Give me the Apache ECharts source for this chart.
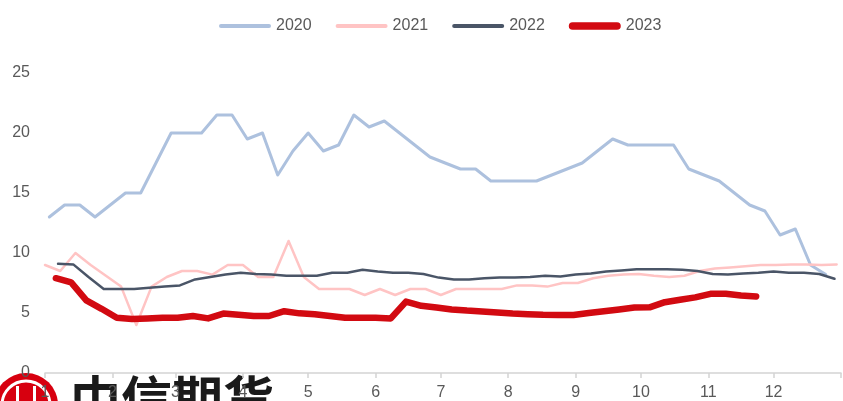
<!DOCTYPE html>
<html>
<head>
<meta charset="utf-8">
<script src="https://cdn.jsdelivr.net/npm/echarts@6.0.0/dist/echarts.min.js"></script>
<style>
html, body { margin: 0; padding: 0; background: #fff; }
#chart { width: 843px; height: 401px; }
</style>
</head>
<body>
<div id="chart"></div>
<script>
const monthLabels = ['1', '2', '3', '4', '5', '6', '7', '8', '9', '10', '11', '12']
const monthStarts = [0, 31, 60, 91, 121, 152, 182, 213, 244, 274, 305, 335]
const yearDays = 366
const yTicks = [0, 5, 10, 15, 20, 25]

const years = ['2020', '2021', '2022', '2023']
const firstDay = { '2020': 2, '2021': 0, '2022': 6, '2023': 5 }

const v2020 = [13, 14, 14, 13, 14, 15, 15, 17.5, 20, 20, 20, 21.5, 21.5, 19.5, 20, 16.5, 18.5, 20,
    18.5, 19, 21.5, 20.5, 21, 20, 19, 18, 17.5, 17, 17, 16, 16, 16, 16, 16.5, 17, 17.5, 18.5, 19.5,
    19, 19, 19, 19, 17, 16.5, 16, 15, 14, 13.5, 11.5, 12, 9, 8.2]
const v2021 = [9, 8.5, 10, 9, 8.1, 7.2, 4, 7.2, 8, 8.5, 8.5, 8.2, 9, 9, 8, 8, 11, 8, 7, 7, 7, 6.5,
    7, 6.5, 7, 7, 6.5, 7, 7, 7, 7, 7.3, 7.3, 7.2, 7.5, 7.5, 7.9, 8.1, 8.2, 8.25, 8.1, 8, 8.1, 8.5,
    8.7, 8.8, 8.9, 9, 9, 9.05, 9.05, 9, 9.05]
const v2022 = [9.1, 9.05, 8, 7, 7, 7, 7.1, 7.2, 7.3, 7.8, 8, 8.2, 8.35, 8.25, 8.2, 8.1, 8.1, 8.1,
    8.35, 8.35, 8.6, 8.45, 8.35, 8.35, 8.25, 7.95, 7.8, 7.8, 7.9, 7.95, 7.95, 8, 8.1, 8.05, 8.2,
    8.3, 8.45, 8.55, 8.65, 8.65, 8.65, 8.6, 8.5, 8.25, 8.2, 8.3, 8.35, 8.45, 8.35, 8.35, 8.25, 7.85]
const v2023 = [7.9, 7.55, 6.05, 5.35, 4.6, 4.5, 4.55, 4.6, 4.6, 4.75, 4.55, 4.95, 4.85, 4.75, 4.75,
    5.15, 4.97, 4.9, 4.75, 4.6, 4.6, 4.6, 4.55, 5.95, 5.6, 5.45, 5.3, 5.2, 5.13, 5.05, 4.95, 4.9,
    4.85, 4.83, 4.83, 5, 5.15, 5.3, 5.45, 5.47, 5.9, 6.1, 6.3, 6.6, 6.6, 6.45, 6.38]

const values = { '2020': v2020, '2021': v2021, '2022': v2022, '2023': v2023 }
const colors = { '2020': '#adc1de', '2021': '#ffc4c4', '2022': '#4a5567', '2023': '#d20a11' }
const widths = { '2020': 3, '2021': 2.5, '2022': 2.5, '2023': 6.5 }

const thinIcon = 'path://M2,0 L50,0 A2,2 0 0 1 50,4 L2,4 A2,2 0 0 1 2,0 Z'
const thickIcon = 'path://M4,0 L51,0 A4,4 0 0 1 51,8 L4,8 A4,4 0 0 1 4,0 Z'

const font = '"Liberation Sans", Arial, sans-serif'

const weekly = function (year) {
    const start = firstDay[year]
    return values[year].map((v, i) => [start + i * 7, v])
}

const chart = echarts.init(document.getElementById('chart'))

chart.setOption({
    animation: false,
    backgroundColor: '#fff',
    legend: {
        left: 214,
        top: 13,
        itemWidth: 52,
        itemHeight: 14,
        itemGap: 24,
        symbolKeepAspect: true,
        textStyle: { fontSize: 16, color: '#595959', fontFamily: font },
        data: years.map(y => ({ name: y, icon: y === '2023' ? thickIcon : thinIcon }))
    },
    grid: { left: 45, right: 2, top: 73, bottom: 28, containLabel: false },
    xAxis: {
        type: 'value',
        min: 0,
        max: yearDays,
        splitLine: { show: false },
        axisLine: { lineStyle: { color: '#d4d4d4', width: 1.5 } },
        axisTick: {
            customValues: monthStarts.concat([yearDays]),
            length: 5,
            lineStyle: { color: '#d4d4d4', width: 1.5 }
        },
        axisLabel: {
            customValues: monthStarts,
            margin: 12,
            fontSize: 16,
            color: '#595959',
            fontFamily: font,
            formatter: function (val) {
                const i = monthStarts.indexOf(val)
                return i >= 0 ? monthLabels[i] : ''
            }
        }
    },
    yAxis: {
        type: 'value',
        min: yTicks[0],
        max: yTicks[yTicks.length - 1],
        interval: 5,
        splitLine: { show: false },
        axisLine: { show: false },
        axisTick: { show: false },
        axisLabel: { margin: 15, fontSize: 16, color: '#595959', fontFamily: font }
    },
    graphic: [
        { type: 'circle', z: 0, shape: { cx: 26, cy: 405, r: 32 }, style: { fill: '#d7000f' } },
        { type: 'circle', z: 0, shape: { cx: 26, cy: 405, r: 24 }, style: { fill: 'none', stroke: '#fff', lineWidth: 3 } },
        { type: 'rect', z: 0, shape: { x: 16, y: 386, width: 3, height: 20 }, style: { fill: '#fff' } },
        { type: 'rect', z: 0, shape: { x: 33, y: 386, width: 3, height: 20 }, style: { fill: '#fff' } },
        {
            type: 'text', z: 0, left: 70, top: 374,
            style: { text: '中信期货', font: 'bold 51px "Noto Sans CJK SC"', fill: '#1a1a1a' }
        }
    ],
    series: years.map(y => ({
        name: y,
        type: 'line',
        data: weekly(y),
        symbol: 'none',
        color: colors[y],
        lineStyle: { color: colors[y], width: widths[y], cap: 'round', join: 'round' }
    }))
})
</script>
</body>
</html>
